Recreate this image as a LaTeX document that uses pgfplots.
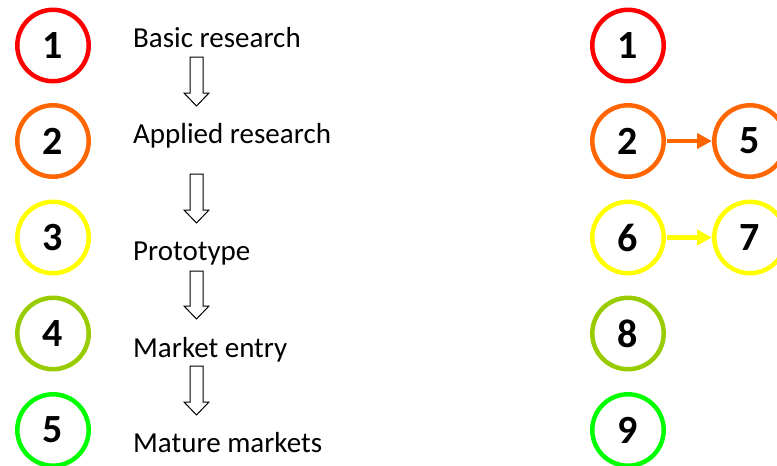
\documentclass[border=0pt]{standalone}
\usepackage{pgfplots}
\pgfplotsset{compat=1.18}
\usetikzlibrary{arrows.meta}
\usepackage{fontspec}
\setmainfont{Carlito}
\definecolor{cRed}{HTML}{FF0000}
\definecolor{cOrange}{HTML}{FF6600}
\definecolor{cYellow}{HTML}{FFFF00}
\definecolor{cOlive}{HTML}{99CC00}
\definecolor{cGreen}{HTML}{00FF00}
\begin{document}
\begin{tikzpicture}
\begin{axis}[
  width=777pt, height=466pt, scale only axis,
  xmin=0, xmax=777, ymin=0, ymax=466, y dir=reverse,
  hide axis, clip=true, clip marker paths=true,
]
% circles
\addplot[only marks, mark=*, mark size=35.7pt, mark options={draw=cRed, fill=white, line width=4.5pt}] coordinates {(53,45.5) (628,45.5)};
\addplot[only marks, mark=*, mark size=35.7pt, mark options={draw=cOrange, fill=white, line width=4.5pt}] coordinates {(53,141) (628,141) (750,141)};
\addplot[only marks, mark=*, mark size=35.7pt, mark options={draw=cYellow, fill=white, line width=4.5pt}] coordinates {(53,237.5) (628,237.5) (750,237.5)};
\addplot[only marks, mark=*, mark size=35.7pt, mark options={draw=cOlive, fill=white, line width=4.5pt}] coordinates {(53,333.5) (628,333.5)};
\addplot[only marks, mark=*, mark size=35.7pt, mark options={draw=cGreen, fill=white, line width=4.5pt}] coordinates {(53,430) (628,430)};
% right arrows
\addplot[cOrange, line width=4.5pt, -{Triangle[length=15pt,width=15pt]}] coordinates {(667,141) (712,141)};
\addplot[cYellow, line width=4.5pt, -{Triangle[length=15pt,width=15pt]}] coordinates {(667,237.5) (712,237.5)};
% hollow down arrows
\addplot[black, fill=white, line width=1pt] coordinates {(190,57) (203,57) (203,93) (209,93) (196.5,106) (184,93) (190,93)} -- cycle;
\addplot[black, fill=white, line width=1pt] coordinates {(190,174) (203,174) (203,210) (209,210) (196.5,223) (184,210) (190,210)} -- cycle;
\addplot[black, fill=white, line width=1pt] coordinates {(190,271) (203,271) (203,306) (209,306) (196.5,319) (184,306) (190,306)} -- cycle;
\addplot[black, fill=white, line width=1pt] coordinates {(190,366) (203,366) (203,402) (209,402) (196.5,415) (184,402) (190,402)} -- cycle;
% numbers
\begin{scope}[every node/.style={inner sep=0pt, font=\fontsize{40}{40}\selectfont\bfseries}]
\node at (axis cs:53,46) {1};
\node at (axis cs:53,141) {2};
\node at (axis cs:53,237.5) {3};
\node at (axis cs:53,333.5) {4};
\node at (axis cs:53,430) {5};
\node at (axis cs:628,46) {1};
\node at (axis cs:628,141) {2};
\node at (axis cs:750,141) {5};
\node at (axis cs:628,237.5) {6};
\node at (axis cs:750,237.5) {7};
\node at (axis cs:628,333.5) {8};
\node at (axis cs:628,430) {9};
\end{scope}
% labels
\begin{scope}[every node/.style={inner sep=0pt, anchor=base west, font=\fontsize{29}{29}\selectfont}]
\node at (axis cs:133,47) {Basic research};
\node at (axis cs:133,143) {Applied research};
\node at (axis cs:133,260) {Prototype};
\node at (axis cs:133,357) {Market entry};
\node at (axis cs:133,452) {Mature markets};
\end{scope}
\end{axis}
\pgfresetboundingbox
\path[use as bounding box] (current axis.south west) rectangle (current axis.north east);
\end{tikzpicture}
\end{document}
